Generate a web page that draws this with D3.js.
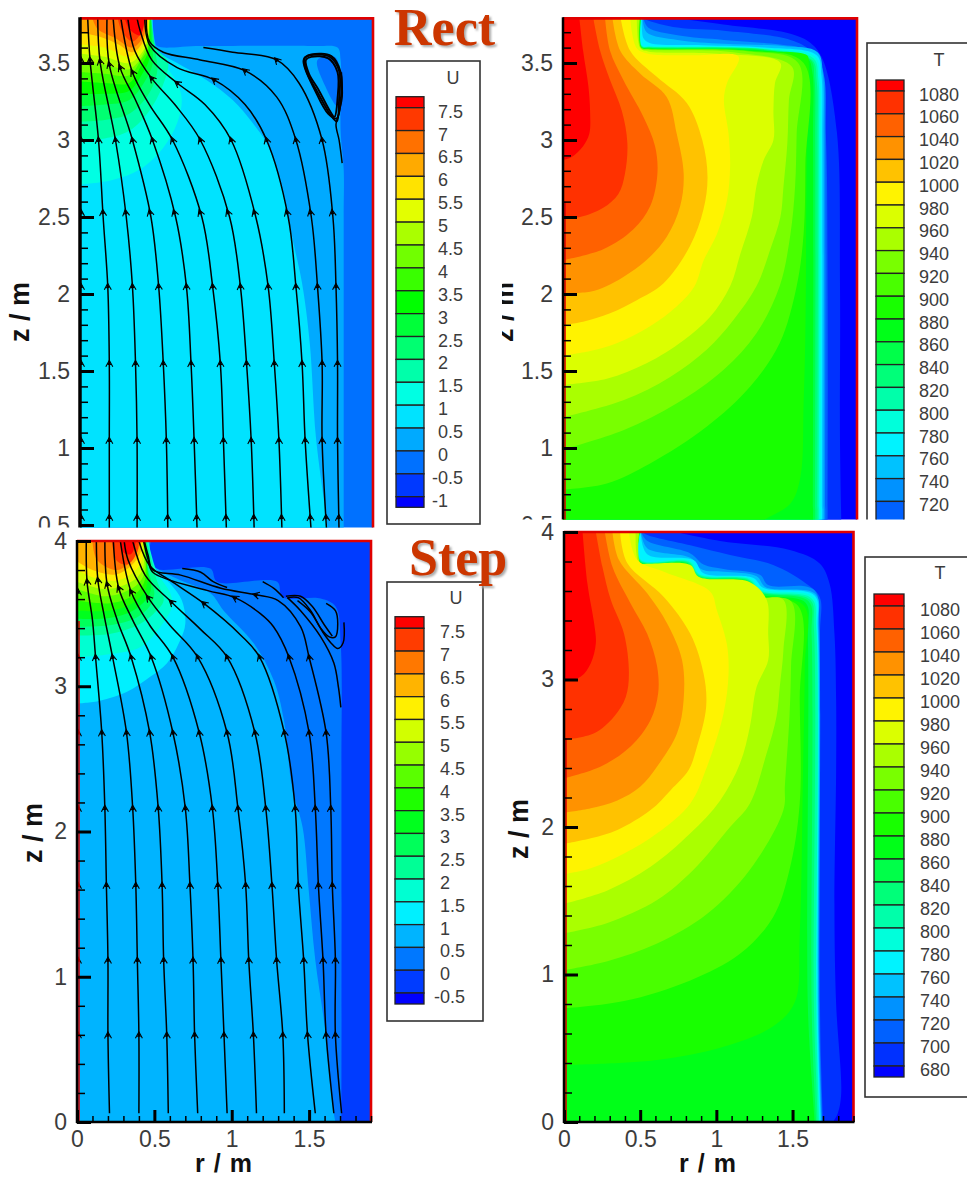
<!DOCTYPE html>
<html><head><meta charset="utf-8"><title>Rect and Step</title>
<script src="https://cdn.jsdelivr.net/npm/d3@7"></script>
<style>html,body{margin:0;padding:0;background:#fff;overflow:hidden}svg{display:block}</style>
</head><body><svg id="c" width="967" height="1177"></svg>
<script>
// ---------- axis values ----------
const rMajor=[0,0.5,1,1.5];
const rMinor=d3.range(1,20).map(d=>d/10);
const zMajorRect=[3.5,3,2.5,2,1.5,1,0.5];
const zMinorRect=d3.range(5,38).map(d=>d/10);
const zMajorStep=[4,3,2,1,0];
const zMinorStep=d3.range(0,21).map(d=>d/5);
// ---------- legend labels ----------
const uRectLabels=[7.5,7,6.5,6,5.5,5,4.5,4,3.5,3,2.5,2,1.5,1,0.5,0,-0.5,-1];
const uStepLabels=[7.5,7,6.5,6,5.5,5,4.5,4,3.5,3,2.5,2,1.5,1,0.5,0,-0.5];
const tLabels=[1080,1060,1040,1020,1000,980,960,940,920,900,880,860,840,820,800,780,760,740,720,700,680];
// ---------- contour regions: [lower level, boundary points as [r,z]] ----------
const uRectRegions=[
[0,[[1.71,.45],[1.71,2.5],[1.71,2.81],[1.69,3.06],[1.69,3.52],[1.67,3.6],[1.52,3.61],[.78,3.61],[.5,3.61],[.485,3.65],[.47,3.79]]],
[.5,[[1.61,.45],[1.59,.6],[1.53,1.07],[1.49,1.68],[1.44,2.07],[1.38,2.35],[1.34,2.56],[1.29,2.76],[1.21,2.98],[1.12,3.11],[.99,3.26],[.82,3.39],[.63,3.5],[.5,3.58],[.48,3.65],[.47,3.79]]],
[1,[[0,2.71],[.21,2.74],[.39,2.81],[.54,2.95],[.63,3.11],[.66,3.26],[.63,3.37],[.54,3.5],[.47,3.6],[.46,3.79]]],
[1.5,[[0,3],[.16,3.01],[.32,3.06],[.45,3.19],[.55,3.39],[.57,3.51],[.49,3.6],[.465,3.79]]],
[2,[[0,3.12],[.16,3.13],[.32,3.17],[.44,3.29],[.5,3.44],[.49,3.57],[.46,3.79]]],
[2.5,[[0,3.22],[.16,3.23],[.32,3.26],[.42,3.38],[.47,3.49],[.47,3.6],[.46,3.79]]],
[3,[[0,3.3],[.16,3.3],[.32,3.32],[.41,3.44],[.45,3.53],[.455,3.79]]],
[3.5,[[0,3.38],[.16,3.37],[.32,3.37],[.4,3.49],[.44,3.57],[.45,3.79]]],
[4,[[0,3.44],[.16,3.43],[.32,3.42],[.39,3.51],[.44,3.6],[.45,3.79]]],
[4.5,[[0,3.5],[.16,3.49],[.32,3.46],[.4,3.54],[.43,3.62],[.45,3.79]]],
[5,[[0,3.56],[.16,3.54],[.32,3.5],[.41,3.58],[.44,3.66],[.45,3.79]]],
[5.5,[[0,3.62],[.16,3.6],[.32,3.54],[.4,3.6],[.435,3.7],[.445,3.79]]],
[6,[[0,3.7],[.13,3.67],[.25,3.62],[.34,3.57],[.41,3.64],[.44,3.79]]],
[6.5,[[.08,3.79],[.115,3.72],[.23,3.66],[.34,3.6],[.41,3.67],[.435,3.79]]],
[7,[[.245,3.79],[.27,3.71],[.34,3.64],[.4,3.7],[.425,3.79]]],
[7.5,[[.29,3.79],[.32,3.72],[.39,3.68],[.42,3.79]]]];
const uRectIslands=[[-0.5,[[1.54,3.52],[1.65,3.54],[1.69,3.45],[1.69,3.19],[1.66,3.22],[1.59,3.35]]]];
const uStepRegions=[
[0,[[1.709,0],[1.709,2.4],[1.704,3.294],[1.672,3.547],[1.575,3.604],[1.326,3.615],[1.294,3.719],[.905,3.719],[.862,3.81],[.484,3.82],[.477,4]]],
[.5,[[1.67,0],[1.66,.06],[1.607,.61],[1.54,1.115],[1.497,1.6],[1.458,2.03],[1.39,2.3],[1.337,2.767],[1.272,3.04],[1.143,3.294],[.948,3.52],[.862,3.64],[.668,3.73],[.516,3.81],[.48,3.845],[.469,4]]],
[1,[[0,2.88],[.149,2.9],[.32,2.96],[.473,3.065],[.58,3.157],[.667,3.317],[.7,3.43],[.678,3.59],[.603,3.706],[.505,3.8],[.462,4]]],
[1.5,[[0,3.2],[.21,3.22],[.41,3.27],[.54,3.41],[.614,3.55],[.603,3.64],[.516,3.79],[.46,4]]],
[2,[[0,3.35],[.21,3.36],[.39,3.42],[.495,3.5],[.56,3.59],[.516,3.73],[.452,4]]],
[2.5,[[0,3.41],[.21,3.42],[.38,3.47],[.47,3.55],[.5,3.64],[.46,3.8],[.45,4]]],
[3,[[0,3.465],[.21,3.47],[.36,3.52],[.45,3.6],[.48,3.69],[.44,3.85],[.445,4]]],
[3.5,[[0,3.52],[.2,3.52],[.34,3.56],[.43,3.64],[.455,3.72],[.44,4]]],
[4,[[0,3.59],[.2,3.57],[.32,3.6],[.41,3.67],[.445,3.76],[.435,4]]],
[4.5,[[0,3.67],[.18,3.62],[.3,3.645],[.4,3.71],[.44,3.8],[.43,4]]],
[5,[[0,3.72],[.17,3.67],[.29,3.69],[.39,3.75],[.43,3.83],[.425,4]]],
[5.5,[[0,3.8],[.13,3.74],[.27,3.73],[.37,3.79],[.42,3.87],[.42,4]]],
[6,[[0,3.86],[.1,3.8],[.25,3.77],[.35,3.83],[.41,3.92],[.415,4]]],
[6.5,[[.1,4],[.13,3.87],[.26,3.8],[.35,3.86],[.4,3.95],[.41,4]]],
[7,[[.225,4],[.26,3.86],[.33,3.84],[.39,3.93],[.4,4]]],
[7.5,[[.28,4],[.3,3.92],[.35,3.91],[.38,4]]]];
const tRectRegions=[
[680,[[1.8,.45],[1.79,1.05],[1.79,2.07],[1.77,3.05],[1.68,3.52],[1.6,3.63],[1.47,3.69],[1.036,3.75],[.74,3.79]]],
[700,[[1.71,.45],[1.71,2],[1.7,3],[1.67,3.45],[1.6,3.58],[1.47,3.65],[1.04,3.71],[.74,3.73],[.54,3.78],[.525,3.79]]],
[720,[[1.695,.45],[1.695,3],[1.69,3.4],[1.66,3.5],[1.58,3.585],[1.4,3.62],[1.04,3.65],[.74,3.68],[.55,3.73],[.52,3.79]]],
[740,[[1.685,.45],[1.685,3],[1.68,3.42],[1.645,3.57],[1.42,3.61],[1.04,3.625],[.74,3.65],[.54,3.7],[.515,3.79]]],
[760,[[1.675,.45],[1.675,3],[1.67,3.42],[1.64,3.55],[1.3,3.6],[.9,3.615],[.56,3.63],[.52,3.66],[.51,3.79]]],
[780,[[1.665,.45],[1.665,3],[1.66,3.4],[1.63,3.54],[1.3,3.595],[.56,3.61],[.51,3.615],[.506,3.79]]],
[800,[[1.655,.45],[1.655,3],[1.65,3.4],[1.62,3.53],[1.3,3.59],[.56,3.605],[.509,3.61],[.505,3.79]]],
[820,[[1.645,.45],[1.645,3],[1.64,3.38],[1.61,3.52],[1.3,3.59],[.56,3.6],[.508,3.61],[.504,3.79]]],
[840,[[1.63,.45],[1.63,3],[1.625,3.4],[1.6,3.52],[1.3,3.585],[.56,3.6],[.507,3.605],[.503,3.79]]],
[860,[[1.616,.45],[1.616,3],[1.61,3.45],[1.58,3.53],[1.3,3.58],[.56,3.595],[.505,3.605],[.502,3.79]]],
[880,[[1.2,.45],[1.297,.53],[1.47,.64],[1.534,.81],[1.555,1.29],[1.566,1.72],[1.577,3.04],[1.588,3.5],[1.577,3.55],[1.3,3.575],[.56,3.592],[.505,3.6],[.5,3.79]]],
[900,[[0,.73],[.283,.77],[.563,.9],[.93,1.14],[1.21,1.4],[1.4,1.68],[1.51,2.05],[1.555,2.39],[1.566,2.83],[1.555,3.5],[1.2,3.58],[.56,3.592],[.505,3.6],[.499,3.79]]],
[920,[[0,.99],[.39,1.115],[.736,1.29],[1.04,1.51],[1.25,1.745],[1.4,2.05],[1.47,2.39],[1.5,2.7],[1.51,3.04],[1.52,3.5],[1.2,3.575],[.56,3.59],[.505,3.6],[.496,3.79]]],
[940,[[0,1.2],[.39,1.31],[.69,1.46],[.93,1.64],[1.1,1.83],[1.25,2.05],[1.34,2.29],[1.405,2.5],[1.425,2.7],[1.45,2.98],[1.46,3.26],[1.48,3.475],[1.1,3.57],[.56,3.585],[.503,3.595],[.493,3.79]]],
[960,[[0,1.41],[.283,1.45],[.54,1.55],[.78,1.7],[.95,1.85],[1.08,2.05],[1.146,2.26],[1.22,2.5],[1.25,2.7],[1.297,2.87],[1.36,3],[1.36,3.19],[1.37,3.37],[1.405,3.5],[1,3.56],[.55,3.575],[.5,3.595],[.477,3.79]]],
[980,[[0,1.6],[.175,1.63],[.347,1.68],[.563,1.79],[.736,1.92],[.85,2.05],[.91,2.22],[.995,2.39],[1.06,2.61],[1.08,2.83],[1.07,3.04],[1.04,3.26],[1.06,3.37],[1.135,3.54],[.85,3.55],[.55,3.56],[.477,3.595],[.434,3.79]]],
[1000,[[0,1.8],[.13,1.82],[.304,1.875],[.477,1.96],[.65,2.07],[.82,2.31],[.908,2.55],[.934,2.76],[.9,3],[.8,3.24],[.606,3.41],[.434,3.58],[.373,3.79]]],
[1020,[[0,2.005],[.175,2.015],[.28,2.05],[.39,2.11],[.54,2.22],[.67,2.37],[.757,2.57],[.78,2.78],[.735,3.04],[.67,3.28],[.5,3.43],[.37,3.58],[.32,3.79]]],
[1040,[[0,2.22],[.26,2.29],[.455,2.42],[.563,2.57],[.61,2.78],[.595,2.96],[.52,3.15],[.39,3.39],[.304,3.58],[.272,3.79]]],
[1060,[[0,2.49],[.11,2.5],[.26,2.56],[.358,2.65],[.4,2.78],[.416,2.98],[.38,3.19],[.304,3.39],[.24,3.58],[.196,3.79]]],
[1080,[[0,2.87],[.056,2.89],[.13,2.96],[.17,3.04],[.175,3.19],[.164,3.35],[.13,3.58],[.106,3.79]]]];
const tStepRegions=[
[680,[[1.765,0],[1.797,.06],[1.819,.19],[1.786,.8],[1.775,1.437],[1.786,2.386],[1.786,2.86],[1.775,3.31],[1.743,3.65],[1.678,3.787],[1.482,3.878],[1.047,3.935],[.731,4]]],
[700,[[1.7,0],[1.69,.3],[1.68,.8],[1.68,3.3],[1.678,3.56],[1.59,3.65],[1.373,3.776],[1.09,3.844],[.829,3.91],[.546,3.98],[.513,4]]],
[720,[[1.695,0],[1.685,.3],[1.675,.8],[1.675,3.35],[1.655,3.59],[1.59,3.63],[1.34,3.64],[1.286,3.71],[1.047,3.75],[.916,3.78],[.829,3.855],[.546,3.94],[.507,4]]],
[740,[[1.69,0],[1.68,.3],[1.67,.8],[1.67,3.35],[1.65,3.58],[1.324,3.625],[1.264,3.7],[1.047,3.73],[.905,3.745],[.829,3.825],[.546,3.89],[.505,4]]],
[760,[[1.685,0],[1.675,.3],[1.665,.8],[1.665,3.35],[1.645,3.57],[1.31,3.62],[1.24,3.69],[.916,3.72],[.85,3.81],[.546,3.85],[.503,4]]],
[780,[[1.68,0],[1.67,.3],[1.66,.8],[1.66,3.35],[1.635,3.56],[1.3,3.61],[1.22,3.686],[.894,3.715],[.829,3.805],[.503,3.815],[.501,4]]],
[800,[[1.675,0],[1.665,.3],[1.655,.8],[1.655,3.35],[1.625,3.55],[1.295,3.6],[1.215,3.68],[.89,3.71],[.82,3.8],[.502,3.81],[.5,4]]],
[820,[[1.665,0],[1.655,.3],[1.64,.8],[1.64,3.35],[1.615,3.54],[1.29,3.595],[1.21,3.675],[.885,3.705],[.815,3.795],[.5,3.805],[.499,4]]],
[840,[[1.655,0],[1.64,.3],[1.625,.8],[1.625,3.3],[1.605,3.53],[1.285,3.59],[1.205,3.67],[.88,3.7],[.81,3.79],[.5,3.8],[.498,4]]],
[860,[[1.645,0],[1.625,.3],[1.6,.8],[1.6,3.3],[1.585,3.52],[1.28,3.58],[1.2,3.665],[.875,3.695],[.805,3.785],[.5,3.795],[.497,4]]],
[880,[[0,.386],[.611,.42],[1.047,.51],[1.373,.65],[1.514,.81],[1.547,1.26],[1.569,2.386],[1.58,3.09],[1.575,3.5],[1.27,3.572],[1.19,3.66],[.87,3.69],[.8,3.782],[.5,3.79],[.496,4]]],
[900,[[0,.77],[.394,.82],[.829,.96],[1.155,1.14],[1.373,1.39],[1.48,1.71],[1.547,2.16],[1.547,2.86],[1.536,3.5],[1.26,3.57],[1.185,3.655],[.868,3.688],[.805,3.78],[.5,3.788],[.495,4]]],
[920,[[0,1.03],[.285,1.09],[.611,1.21],[.938,1.41],[1.22,1.71],[1.44,2.115],[1.45,2.285],[1.48,2.75],[1.49,3.09],[1.49,3.53],[1.25,3.565],[1.18,3.66],[.87,3.685],[.805,3.775],[.5,3.785],[.494,4]]],
[940,[[0,1.28],[.285,1.35],[.611,1.505],[.85,1.71],[1.09,2],[1.22,2.16],[1.33,2.5],[1.395,2.75],[1.416,2.95],[1.44,3.2],[1.44,3.54],[1.264,3.56],[1.2,3.65],[.862,3.686],[.807,3.765],[.55,3.78],[.5,3.79],[.492,4]]],
[960,[[0,1.48],[.285,1.57],[.568,1.73],[.829,1.957],[1.025,2.18],[1.155,2.43],[1.22,2.68],[1.264,2.95],[1.34,3.13],[1.34,3.31],[1.33,3.54],[1.22,3.66],[.883,3.697],[.829,3.776],[.55,3.785],[.492,3.79],[.47,4]]],
[980,[[0,1.68],[.176,1.72],[.394,1.82],[.611,1.957],[.829,2.16],[.93,2.386],[1.047,2.77],[1.08,3.04],[1.068,3.245],[1.003,3.47],[.96,3.595],[.655,3.73],[.481,3.81],[.426,4]]],
[1000,[[0,1.885],[.176,1.923],[.35,1.98],[.568,2.115],[.7,2.25],[.818,2.386],[.873,2.545],[.933,2.816],[.916,3.04],[.829,3.31],[.655,3.56],[.416,3.788],[.368,4]]],
[1020,[[0,2.097],[.176,2.127],[.35,2.18],[.5,2.273],[.611,2.41],[.742,2.635],[.785,2.86],[.775,3.13],[.677,3.38],[.546,3.584],[.361,3.81],[.318,4]]],
[1040,[[0,2.33],[.242,2.41],[.437,2.545],[.568,2.725],[.618,2.906],[.611,3.09],[.546,3.31],[.437,3.516],[.318,3.765],[.268,4]]],
[1060,[[0,2.59],[.198,2.635],[.329,2.75],[.405,2.88],[.426,3.04],[.394,3.31],[.307,3.54],[.252,3.765],[.209,4]]],
[1080,[[0,2.985],[.111,3.02],[.176,3.11],[.209,3.245],[.198,3.38],[.154,3.65],[.122,4]]]];
// ---------- streamlines (r,z), from the bottom upwards ----------
const rectStreams=[
[[.19,.45],[.19,1.05],[.19,1.55],[.18,2.05],[.15,2.5],[.12,3],[.065,3.52],[.05,3.79]],
[[.37,.45],[.37,1.05],[.36,1.55],[.34,2.05],[.3,2.5],[.23,3],[.13,3.51],[.115,3.79]],
[[.57,.45],[.56,1.05],[.54,1.55],[.51,2.05],[.46,2.5],[.34,3],[.19,3.49],[.175,3.79]],
[[.76,.45],[.74,1.05],[.72,1.55],[.69,2.05],[.62,2.5],[.47,3],[.36,3.26],[.26,3.47],[.215,3.79]],
[[.95,.45],[.93,1.05],[.91,1.55],[.86,2.05],[.79,2.5],[.6,3],[.45,3.23],[.34,3.44],[.265,3.79]],
[[1.13,.45],[1.11,1.05],[1.08,1.55],[1.04,2.05],[.97,2.5],[.78,3],[.615,3.23],[.465,3.4],[.355,3.58],[.31,3.79]],
[[1.31,.45],[1.29,1.05],[1.26,1.55],[1.22,2.05],[1.14,2.5],[.98,3],[.81,3.23],[.63,3.37],[.465,3.52],[.39,3.71],[.37,3.79]],
[[1.5,.45],[1.46,1.05],[1.44,1.55],[1.4,2.05],[1.35,2.5],[1.21,3],[1.07,3.23],[.87,3.39],[.63,3.47],[.45,3.62],[.42,3.79]],
[[1.6,.45],[1.57,1.05],[1.57,1.55],[1.54,2.05],[1.5,2.5],[1.4,3],[1.275,3.28],[1.07,3.45],[.78,3.52],[.54,3.57],[.45,3.64],[.43,3.79]],
[[1.68,.45],[1.67,1.05],[1.67,1.55],[1.66,2.05],[1.64,2.5],[1.57,3],[1.42,3.37],[1.275,3.52],[.99,3.57],[.8,3.6]],
[[1.7,2.85],[1.68,3],[1.66,3.1],[1.68,3.18],[1.7,3.28],[1.695,3.44]]];
const rectLoops=[
[[1.455,3.53],[1.49,3.55],[1.62,3.54],[1.68,3.45],[1.68,3.26],[1.665,3.12],[1.62,3.17],[1.535,3.32],[1.475,3.43],[1.455,3.5]],
[[1.465,3.52],[1.5,3.54],[1.61,3.53],[1.67,3.44],[1.67,3.27],[1.65,3.15],[1.62,3.19],[1.545,3.33],[1.485,3.43]],
[[1.45,3.52],[1.5,3.555],[1.63,3.545],[1.69,3.44],[1.69,3.25],[1.665,3.14],[1.61,3.17],[1.53,3.31]]];
const stepStreams=[
[[.21,.06],[.2,.6],[.2,1.115],[.19,1.63],[.18,2.16],[.16,2.68],[.12,3.2],[.1,3.455],[.065,3.72],[.06,4]],
[[.4,.06],[.4,.6],[.39,1.115],[.38,1.63],[.36,2.16],[.32,2.68],[.23,3.2],[.175,3.49],[.135,3.73],[.125,4]],
[[.59,.06],[.58,.6],[.56,1.115],[.55,1.63],[.525,2.16],[.47,2.68],[.35,3.2],[.26,3.455],[.195,3.7],[.18,4]],
[[.78,.06],[.76,.6],[.75,1.115],[.73,1.63],[.7,2.16],[.62,2.68],[.48,3.2],[.36,3.455],[.27,3.675],[.235,4]],
[[.97,.06],[.95,.6],[.93,1.115],[.91,1.63],[.875,2.16],[.79,2.68],[.62,3.2],[.47,3.42],[.35,3.65],[.28,4]],
[[1.16,.06],[1.14,.6],[1.11,1.115],[1.09,1.63],[1.04,2.16],[.97,2.68],[.78,3.2],[.6,3.42],[.46,3.61],[.33,3.87],[.305,4]],
[[1.34,.06],[1.33,.6],[1.29,1.115],[1.26,1.63],[1.22,2.16],[1.15,2.68],[.97,3.2],[.8,3.39],[.61,3.58],[.44,3.765],[.36,4]],
[[1.54,.06],[1.49,.6],[1.465,1.115],[1.43,1.63],[1.41,2.16],[1.34,2.68],[1.18,3.2],[1.06,3.35],[.82,3.57],[.6,3.73],[.47,3.83],[.4,4]],
[[1.66,.06],[1.61,.6],[1.59,1.115],[1.56,1.63],[1.54,2.16],[1.5,2.68],[1.37,3.2],[1.27,3.41],[1.185,3.5],[1.02,3.61],[.84,3.66],[.49,3.785],[.46,3.87],[.43,4]],
[[1.71,.06],[1.67,.6],[1.67,1.115],[1.65,1.63],[1.64,2.16],[1.61,2.68],[1.5,3.2],[1.445,3.41],[1.3,3.59],[1.155,3.63],[.93,3.675],[.67,3.765],[.49,3.8],[.46,3.9],[.435,4]],
[[1.705,2.855],[1.69,2.99],[1.66,3.16],[1.575,3.34],[1.445,3.52],[1.36,3.61]],
[[.68,3.81],[.8,3.785],[.88,3.72],[.97,3.68]],
[[1.2,3.72],[1.27,3.675],[1.335,3.61]],
[[1.36,3.61],[1.43,3.61],[1.51,3.52],[1.575,3.4],[1.63,3.34],[1.67,3.34],[1.685,3.43],[1.67,3.52],[1.61,3.57]],
[[1.425,3.59],[1.51,3.51],[1.59,3.37],[1.64,3.3],[1.685,3.26],[1.72,3.3],[1.725,3.44]],
[[1.35,3.62],[1.445,3.62],[1.52,3.55],[1.6,3.42],[1.65,3.345]]];
// arrow rows (z) and the extra upper arrow of each long streamline
const rectArrowRows=[.55,1.05,1.55,2.05,2.53,3];
const rectArrowUpper=[3.52,3.51,3.49,3.47,3.44,3.4,3.37,3.39,3.45,3.52];
const stepArrowRows=[.6,1.115,1.63,2.16,2.68,3.2];
const stepArrowUpper=[3.72,3.73,3.7,3.675,3.65,3.61,3.58,3.57,3.61,3.63];
const rectAxisArrows=[.55,1.05,1.55,2.05,2.53,3,3.52];
const stepAxisArrows=[.6,1.115,1.63,2.16,2.68,3.2,3.65];

const svg=d3.select('#c');
const defs=svg.append('defs');
const rainbow=d3.scaleLinear().domain([0,.25,.5,.75,1]).range(['#0000ff','#00ffff','#00ff00','#ffff00','#ff0000']);
const pen=d3.line().x(d=>d[0]).y(d=>d[1]);
const TICK='#3c3c3c', FRAME='#e00000';
const sans='"Liberation Sans",Arial,sans-serif';

function clip(id,x,y,w,h){defs.append('clipPath').attr('id',id).append('rect').attr('x',x).attr('y',y).attr('width',w).attr('height',h);return 'url(#'+id+')';}

function panel(p){
  const g=svg.append('g').attr('clip-path',clip(p.id+'All',0,p.clipTop,967,p.clipBottom-p.clipTop));
  const x=d3.scaleLinear().domain([0,1.9]).range(p.xr);
  const y=d3.scaleLinear().domain(p.zd).range(p.yr);
  const [zBot,zTop]=p.zExtent;
  const step=Math.abs(p.labels[0]-p.labels[1]), vmin=p.labels[p.labels.length-1], n=p.labels.length+1;
  const colorOf=L=>rainbow((Math.round((L-vmin)/step)+1)/(n-1));
  const plot=g.append('g').attr('clip-path',clip(p.id+'Plot',x(0),y(zTop),x(1.9)-x(0),y(zBot)-y(zTop)));
  plot.append('rect').attr('x',x(0)).attr('y',y(zTop)).attr('width',x(1.9)-x(0)).attr('height',y(zBot)-y(zTop)).attr('fill',colorOf(p.base));
  const smooth=d3.line().x(d=>x(d[0])).y(d=>y(d[1])).curve(d3.curveCatmullRom.alpha(.5));
  const smoothClosed=d3.line().x(d=>x(d[0])).y(d=>y(d[1])).curve(d3.curveCatmullRomClosed.alpha(.5));
  p.regions.forEach(([L,pts])=>{
    let d=smooth(pts);
    if(pts[0][1]<zTop-1e-6) d+='L'+x(0)+','+y(zTop)+'L'+x(0)+','+y(zBot);
    plot.append('path').attr('d',d+'Z').attr('fill',colorOf(L));
  });
  (p.islands||[]).forEach(([L,pts])=>plot.append('path').attr('d',smoothClosed(pts)).attr('fill',colorOf(L)));
  (p.streams||[]).forEach(pts=>plot.append('path').attr('d',smooth(pts)).attr('fill','none').attr('stroke','#000').attr('stroke-width',1.5));
  (p.loops||[]).forEach(pts=>plot.append('path').attr('d',smoothClosed(pts)).attr('fill','none').attr('stroke','#000').attr('stroke-width',1.9));
  // arrows
  const arrow=(px,py,ang)=>{
    const a=plot.append('g').attr('transform','translate('+px+','+py+') rotate('+ang+')');
    a.append('path').attr('d','M-3.5,3.5L0,-3L3.5,3.5').attr('fill','none').attr('stroke','#000').attr('stroke-width',1.1);
    a.append('path').attr('d','M-2,1.8L0,-3.2L2,1.8Z').attr('fill','#000');
  };
  const arrowAt=(pts,z)=>{
    for(let i=0;i<pts.length-1;i++){
      const a=pts[i],b=pts[i+1];
      if((a[1]-z)*(b[1]-z)<=0 && a[1]!==b[1]){
        const t=(z-a[1])/(b[1]-a[1]);
        const xa=x(a[0]),ya=y(a[1]),xb=x(b[0]),yb=y(b[1]);
        arrow(xa+(xb-xa)*t,ya+(yb-ya)*t,Math.atan2(xb-xa,ya-yb)*180/Math.PI);
        return;
      }
    }
  };
  if(p.streams){
    p.streams.slice(0,10).forEach((s,i)=>{p.arrowRows.forEach(z=>arrowAt(s,z));arrowAt(s,p.arrowUpper[i]);});
    p.axisArrows.forEach(z=>arrow(x(0)+1,y(z),0));
  }
  // frame
  const fr=g.append('g').attr('fill','none').attr('stroke',FRAME).attr('stroke-width',2.6);
  fr.append('path').attr('d',pen([[x(0),y(zTop)],[x(1.9),y(zTop)],[x(1.9),y(zBot)]]));
  if(p.redTo!==undefined) fr.append('path').attr('d',pen([[x(0)+2,y(p.redTo)],[x(0)+2,y(zBot)]])).attr('stroke-width',1.6);
  // z axis
  const zMinor=g.append('g').attr('transform','translate('+x(0)+',0)').call(d3.axisLeft(y).tickValues(p.zMinor).tickSize(-8).tickFormat(''));
  zMinor.select('.domain').remove();zMinor.selectAll('line').attr('stroke','#000').attr('stroke-width',1.5);
  const zAxis=g.append('g').attr('transform','translate('+x(0)+',0)').call(d3.axisLeft(y).tickValues(p.zMajor).tickSize(-14).tickPadding(10).tickFormat(d3.format('')));
  zAxis.select('.domain').remove();
  zAxis.selectAll('line').attr('stroke','#000').attr('stroke-width',3);
  zAxis.selectAll('text').attr('font-family',sans).attr('font-size',23).attr('fill',TICK);
  g.append('path').attr('d',pen([[x(0),y(zTop)-1],[x(0),y(zBot)+1]])).attr('stroke','#000').attr('stroke-width',p.axisW);
  // r axis
  if(p.hasR){
    const m=g.append('g').attr('transform','translate(0,'+y(0)+')').call(d3.axisBottom(x).tickValues(rMinor).tickSize(-6).tickFormat(''));
    m.select('.domain').remove();m.selectAll('line').attr('stroke','#000').attr('stroke-width',1.5);
    const a=g.append('g').attr('transform','translate(0,'+y(0)+')').call(d3.axisBottom(x).tickValues(rMajor).tickSize(-12).tickPadding(9).tickFormat(d3.format('')));
    a.select('.domain').remove();
    a.selectAll('line').attr('stroke','#000').attr('stroke-width',3);
    a.selectAll('text').attr('font-family',sans).attr('font-size',23).attr('fill',TICK);
    g.append('path').attr('d',pen([[x(0)-1,y(0)],[x(1.9)+1,y(0)]])).attr('stroke','#000').attr('stroke-width',2.5);
    g.append('text').attr('x',p.rTitleX).attr('y',1171.5).attr('text-anchor','middle').attr('font-family',sans).attr('font-weight','bold').attr('font-size',25).attr('letter-spacing',1).attr('fill','#111').text('r / m');
  }
  // z title
  const tg=p.zTitleClip?g.append('g').attr('clip-path',clip(p.id+'Z',p.zTitleClip,0,967,1177)):g;
  tg.append('text').attr('transform','translate('+p.zTitle[0]+','+p.zTitle[1]+') rotate(-90)').attr('text-anchor','middle')
    .attr('font-family',sans).attr('font-weight','bold').attr('font-size',27).attr('fill','#111').text('z / m');
  // legend
  const l=p.legend;
  g.append('rect').attr('x',l.box[0]).attr('y',l.box[1]).attr('width',l.box[2]-l.box[0]).attr('height',l.box[3]-l.box[1]).attr('fill','#fff').attr('stroke','#333').attr('stroke-width',1.6);
  g.append('text').attr('x',l.title[0]).attr('y',l.title[1]).attr('text-anchor','middle').attr('font-family',sans).attr('font-size',18).attr('fill',TICK).text(p.legendTitle);
  const ly=d3.scaleLinear().domain([0,p.labels.length-1]).range(l.lines);
  const edges=[l.top].concat(p.labels.map((d,i)=>ly(i))).concat([l.bottom]);
  d3.range(edges.length-1).forEach(i=>{
    g.append('rect').attr('x',l.x[0]).attr('y',edges[i]).attr('width',l.x[1]-l.x[0]).attr('height',edges[i+1]-edges[i])
      .attr('fill',rainbow((n-1-i)/(n-1))).attr('stroke','#222').attr('stroke-width',1.3);
  });
  p.labels.forEach((v,i)=>{
    g.append('text').attr('x',v<0?l.labelX-6:l.labelX).attr('y',ly(i)+l.dy).attr('font-family',sans).attr('font-size',18).attr('fill',TICK).text(v);
  });
}

panel({id:'a',clipTop:0,clipBottom:527.5,xr:[80,373],zd:[3.5,1],yr:[63,448],zExtent:[.45,3.79],labels:uRectLabels,base:-0.5,
  regions:uRectRegions,islands:uRectIslands,streams:rectStreams,loops:rectLoops,arrowRows:rectArrowRows,arrowUpper:rectArrowUpper,axisArrows:rectAxisArrows,
  zMajor:zMajorRect,zMinor:zMinorRect,axisW:3.5,hasR:false,zTitle:[29,312],legendTitle:'U',
  legend:{box:[387,61,480,524],title:[453,84],x:[396,424],top:96.7,lines:[107.7,496.7],bottom:507.3,labelX:438,dy:10}});
panel({id:'b',clipTop:0,clipBottom:519.5,xr:[563,857],zd:[3.5,1],yr:[63,448],zExtent:[.45,3.79],labels:tLabels,base:660,redTo:2.6,
  regions:tRectRegions,zMajor:zMajorRect,zMinor:zMinorRect,axisW:2.5,hasR:false,zTitle:[513,312],zTitleClip:502,legendTitle:'T',
  legend:{box:[867,43,980,560],title:[939,66],x:[876,904],top:80,lines:[91,547],bottom:558,labelX:919,dy:9.5}});
panel({id:'c',clipTop:528,clipBottom:1177,xr:[77,371],zd:[4,0],yr:[541,1122],zExtent:[0,4],labels:uStepLabels,base:-0.5,redTo:3.45,
  regions:uStepRegions,streams:stepStreams,arrowRows:stepArrowRows,arrowUpper:stepArrowUpper,axisArrows:stepAxisArrows,
  zMajor:zMajorStep,zMinor:zMinorStep,axisW:2.5,hasR:true,rTitleX:224,zTitle:[42,833],legendTitle:'U',
  legend:{box:[387,582,483,1021],title:[456,604],x:[395,424],top:616.7,lines:[628.3,993],bottom:1004,labelX:440,dy:10}});
panel({id:'d',clipTop:520,clipBottom:1177,xr:[564,853.5],zd:[4,0],yr:[532,1122],zExtent:[0,4],labels:tLabels,base:660,redTo:2.6,
  regions:tStepRegions,zMajor:zMajorStep,zMinor:zMinorStep,axisW:2.5,hasR:true,rTitleX:708,zTitle:[528,829],legendTitle:'T',
  legend:{box:[865,557,980,1097],title:[940,579],x:[874,904],top:594,lines:[606,1066],bottom:1077,labelX:920,dy:9.5}});

const titles=[['Rect',394,45],['Step',409,575]];
svg.selectAll('text.big').data(titles).join('text').attr('class','big')
  .attr('x',d=>d[1]).attr('y',d=>d[2]).text(d=>d[0])
  .attr('font-family','"Liberation Serif","Times New Roman",serif').attr('font-weight','bold').attr('font-size',52).attr('fill','#cc3600')
  .style('filter','drop-shadow(2px 2px 1px #aaa)');
</script></body></html>
